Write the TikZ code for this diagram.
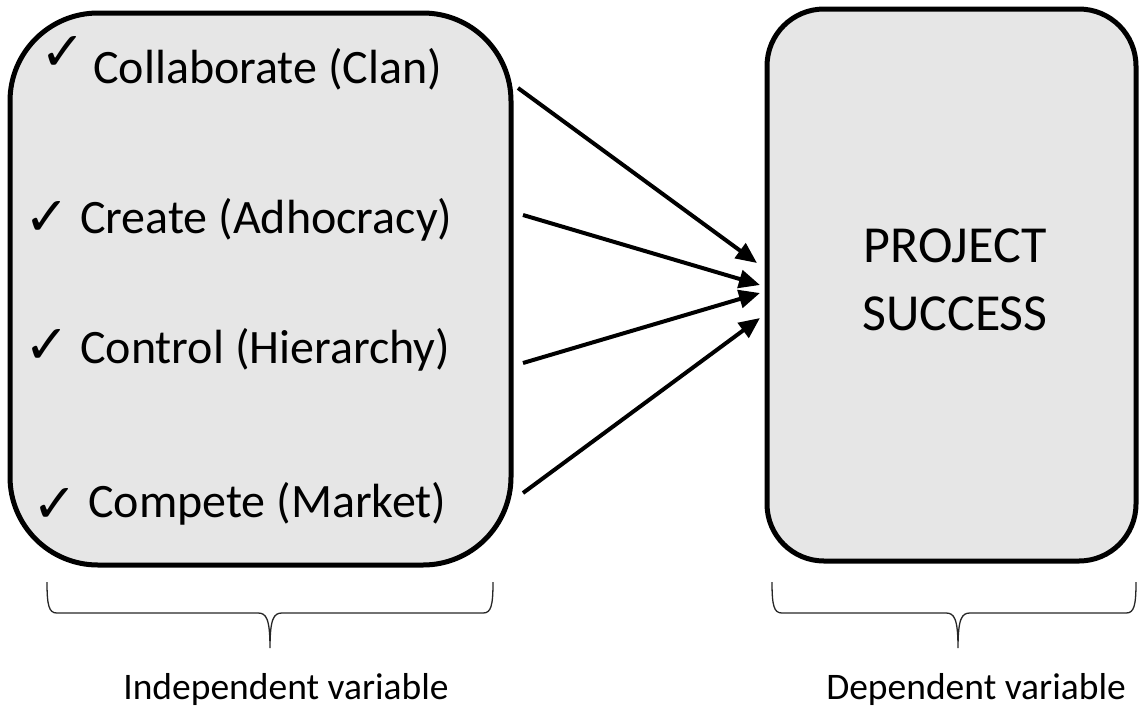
\documentclass[tikz,border=0pt]{standalone}
\usepackage{fontspec}
\setmainfont{Carlito}
\newfontfamily\chkfont{DejaVu Sans}
\usetikzlibrary{arrows.meta}
\definecolor{boxgray}{RGB}{230,230,230}
\tikzset{
  box/.style={draw=black, fill=boxgray, line width=5pt, inner sep=0pt},
  item/.style={inner sep=0pt, font=\fontsize{48}{56}\selectfont, anchor=base west},
  chk/.style={inner sep=0pt, font=\chkfont\fontsize{54}{60}\selectfont},
  big/.style={inner sep=0pt, font=\fontsize{52}{62}\selectfont, anchor=base},
  lbl/.style={inner sep=0pt, font=\fontsize{37.5}{44}\selectfont, anchor=base},
  arr/.style={line width=4pt, -{Triangle[length=21pt,width=18pt]}},
  brace/.style={line width=1.3pt, draw=black!85}
}
\begin{document}
\begin{tikzpicture}[x=1pt,y=-1pt]
\useasboundingbox (0,0) rectangle (1140,710);
% boxes
\node[box, rounded corners=88pt, minimum width=501pt, minimum height=552pt] (L) at (260.5,289) {};
\node[box, rounded corners=57pt, minimum width=369pt, minimum height=552pt] (R) at (951.5,285) {};
% checks
\node[chk] (c1) at (63,53) {✓};
\node[chk] (c2) at (47,218) {✓};
\node[chk] (c3) at (47,346) {✓};
\node[chk] (c4) at (55,505) {✓};
% items
\node[item] (t1) at (93,83) {Collaborate (Clan)};
\node[item] (t2) at (80,233) {Create (Adhocracy)};
\node[item] (t3) at (80,363) {Control (Hierarchy)};
\node[item] (t4) at (88,517) {Compete (Market)};
% right text
\node[big] (p1) at (955,262) {PROJECT};
\node[big] (p2) at (955,330) {SUCCESS};
% arrows
\coordinate (s1) at (518,88);
\coordinate (s2) at (523,215);
\coordinate (s3) at (523,363);
\coordinate (s4) at (523,493);
\coordinate (e1) at (757,263);
\coordinate (e2) at (760,285);
\coordinate (e3) at (760,293);
\coordinate (e4) at (760,318);
\draw[arr] (s1) -- (e1);
\draw[arr] (s2) -- (e2);
\draw[arr] (s3) -- (e3);
\draw[arr] (s4) -- (e4);
% braces
\coordinate (b1a) at (47,582);
\coordinate (b1t) at (270,648);
\coordinate (b1b) at (493,582);
\draw[brace] (b1a) .. controls (47,606) and (49,613) .. (57,613) -- (258,613)
  .. controls (266,613) and (270,618) .. (b1t)
  .. controls (270,618) and (274,613) .. (282,613) -- (483,613)
  .. controls (491,613) and (493,606) .. (b1b);
\coordinate (b2a) at (772,582);
\coordinate (b2t) at (958,648);
\coordinate (b2b) at (1136,582);
\draw[brace] (b2a) .. controls (772,606) and (774,613) .. (782,613) -- (946,613)
  .. controls (954,613) and (958,618) .. (b2t)
  .. controls (958,618) and (962,613) .. (970,613) -- (1126,613)
  .. controls (1134,613) and (1136,606) .. (b2b);
% labels
\node[lbl] (l1) at (286,699) {Independent variable};
\node[lbl] (l2) at (976,699) {Dependent variable};
\end{tikzpicture}
\end{document}
